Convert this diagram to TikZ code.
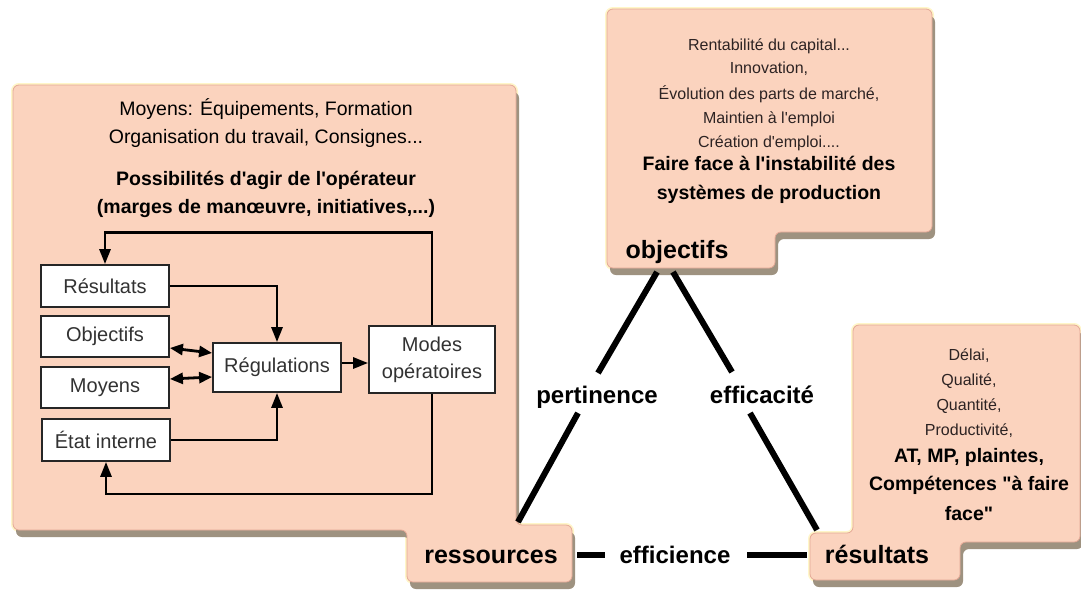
\documentclass[tikz,border=0pt]{standalone}
\usepackage{fontspec}
\setmainfont{Liberation Sans}
\usetikzlibrary{arrows.meta}
\definecolor{panelfill}{RGB}{251,211,190}
\definecolor{paneledge}{RGB}{228,168,150}
\definecolor{panelshadow}{RGB}{158,146,128}
\definecolor{panelhalo}{RGB}{255,246,200}
\definecolor{smalltext}{RGB}{45,35,35}
\definecolor{boxtext}{RGB}{50,50,50}
\newcommand\setfs[1]{\fontsize{#1}{#1}\selectfont}
\newcommand\aposq{\textquotesingle}
% straight double quote, set as a glyph so the TeX ligature mapping leaves it alone
\newcommand\dquote{\XeTeXglyph\XeTeXcharglyph"22\relax}
% outlines of the three salmon panels (panel body plus its label tab)
\newcommand\panelLeftOutline{(13,85) -- (516,85) -- (516,525) -- (572,525) -- (572,582) -- (407,582) -- (407,530) -- (13,530) -- cycle}
\newcommand\panelObjOutline{(607,9) -- (932,9) -- (932,232) -- (775,232) -- (775,268) -- (607,268) -- cycle}
\newcommand\panelResOutline{(853,325) -- (1080,325) -- (1080,542) -- (960,542) -- (960,580) -- (810,580) -- (810,533) -- (853,533) -- cycle}
\begin{document}
\begin{tikzpicture}[x=1pt,y=-1pt,
  panel/.style={fill=panelfill, draw=paneledge, line width=0.8pt, rounded corners=6pt},
  panelshade/.style={fill=panelshadow, rounded corners=6pt},
  panelglow/.style={draw=panelhalo, line width=4pt, rounded corners=6pt},
  innerbox/.style={draw=black!85, line width=1.8pt, fill=white, minimum width=128pt,
    inner sep=0pt, text=boxtext, font=\setfs{20}},
  flowarrow/.style={draw=black, line width=2.8pt, -{Triangle[length=15pt,width=11pt]}},
  dblarrow/.style={draw=black, line width=2.8pt,
    {Triangle[length=13pt,width=11pt]}-{Triangle[length=13pt,width=11pt]}},
  triline/.style={draw=black, line width=6pt},
  tablabel/.style={font=\bfseries\setfs{25}, anchor=base, inner sep=0pt},
  trilabel/.style={font=\bfseries\setfs{24}, anchor=base, inner sep=0pt},
  headline/.style={font=\setfs{19.5}, anchor=base, inner sep=0pt},
  headbold/.style={font=\bfseries\setfs{19.5}, anchor=base, inner sep=0pt},
  smallline/.style={font=\setfs{16}, text=smalltext, anchor=base, inner sep=0pt},
]
\useasboundingbox[fill=white] (0,0) rectangle (1081,595);

% panels: glow, drop shadow, body
\path[panelglow] \panelLeftOutline;
\path[panelglow] \panelObjOutline;
\path[panelglow] \panelResOutline;
\begin{scope}[shift={(3,7)}]
  \path[panelshade] \panelLeftOutline;
  \path[panelshade] \panelObjOutline;
  \path[panelshade] \panelResOutline;
\end{scope}
\path[panel] \panelLeftOutline;
\path[panel] \panelObjOutline;
\path[panel] \panelResOutline;

% left panel: means and operator's room for manoeuvre
\node[headline] (h1) at (266,115) {Moyens: Équipements, Formation};
\node[headline] (h2) at (266,143) {Organisation du travail, Consignes...};
\node[headbold] (h3) at (266,185) {Possibilités d\aposq agir de l\aposq opérateur};
\node[headbold] (h4) at (266,213) {(marges de manœuvre, initiatives,...)};

% regulation loop
\node[innerbox, minimum height=42pt] (res)  at (105,286)   {Résultats};
\node[innerbox, minimum height=41pt] (objb) at (105,336.5) {Objectifs};
\node[innerbox, minimum height=41pt] (moy)  at (105,387.5) {Moyens};
\node[innerbox, minimum height=42pt] (etat) at (106,440)   {État interne};
\node[innerbox, minimum height=49pt] (reg)  at (277,367.5) {Régulations};
\node[innerbox, minimum height=67pt, minimum width=126pt, align=center,
      font=\fontsize{20}{27}\selectfont] (modes) at (432,359.5) {Modes\\opératoires};

\draw[flowarrow] (modes.north) -- ++(0,-93) -| (res.north);
\draw[flowarrow] (modes.south) -- ++(0,100) -| (etat.south);
\draw[flowarrow] (res.east) -| (reg.north);
\draw[flowarrow] (etat.east) -| (reg.south);
\draw[dblarrow] ([yshift=-11.5pt]objb.east) -- ([yshift=14.5pt]reg.west);
\draw[dblarrow] ([yshift=8.5pt]moy.east) -- ([yshift=-9.5pt]reg.west);
\draw[flowarrow] ([yshift=4.5pt]reg.east) -- ([yshift=4.5pt]reg.east -| modes.west);

% objectives panel
\node[smallline] (o1) at (769,50)  {Rentabilité du capital...};
\node[smallline] (o2) at (769,73)  {Innovation,};
\node[smallline] (o3) at (769,99)  {Évolution des parts de marché,};
\node[smallline] (o4) at (769,123) {Maintien à l\aposq emploi};
\node[smallline] (o5) at (769,147) {Création d\aposq emploi....};
\node[headbold]  (o6) at (769,170) {Faire face à l\aposq instabilité des};
\node[headbold]  (o7) at (769,199) {systèmes de production};

% results panel
\node[smallline] (r1) at (969,360) {Délai,};
\node[smallline] (r2) at (969,385) {Qualité,};
\node[smallline] (r3) at (969,410) {Quantité,};
\node[smallline] (r4) at (969,435) {Productivité,};
\node[headbold]  (r5) at (969,462) {AT, MP, plaintes,};
\node[headbold]  (r6) at (969,490) {Compétences \dquote à faire};
\node[headbold]  (r7) at (969,520) {face\dquote};

% triangle corners and sides
\node[tablabel] (objlabel) at (677,258) {objectifs};
\node[tablabel] (resslabel) at (491,563) {ressources};
\node[tablabel] (reslabel) at (877,563) {résultats};
\node[trilabel] (pert) at (597,403) {pertinence};
\node[trilabel] (effa) at (762,403) {efficacité};
\node[trilabel] (effi) at (675,563) {efficience};

\coordinate (apexL) at (657,272);
\coordinate (pertN) at (598,373);
\coordinate (pertS) at (578,413);
\coordinate (baseL) at (518,522);
\coordinate (apexR) at (673,272);
\coordinate (effaN) at (732,372);
\coordinate (effaS) at (750,413);
\coordinate (baseR) at (817,530);
\coordinate (ressE) at (577,555);
\coordinate (effiW) at (605,555);
\coordinate (effiE) at (747,555);
\coordinate (resW)  at (807,555);

\draw[triline] (apexL) -- (pertN);
\draw[triline] (pertS) -- (baseL);
\draw[triline] (apexR) -- (effaN);
\draw[triline] (effaS) -- (baseR);
\draw[triline] (ressE) -- (effiW);
\draw[triline] (effiE) -- (resW);
\end{tikzpicture}
\end{document}
